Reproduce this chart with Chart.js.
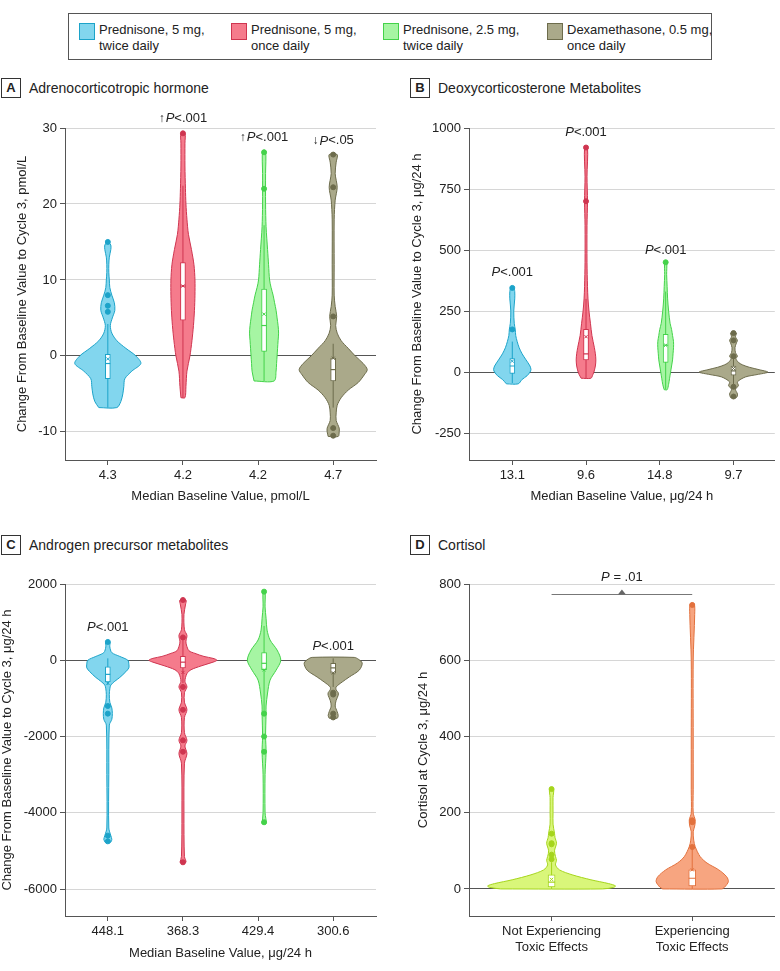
<!DOCTYPE html>
<html>
<head>
<meta charset="utf-8">
<script src="https://cdn.jsdelivr.net/npm/chart.js@4.4.1/dist/chart.umd.min.js"></script>
<style>
  body { margin: 0; background: #fff; font-family: 'Liberation Sans', Arial, sans-serif; color: #222; }
  #page { position: relative; width: 780px; height: 971px; overflow: hidden; }
  .legend { position: absolute; left: 68px; top: 13px; width: 642px; height: 45px; border: 1px solid #555; }
  .item { position: absolute; top: 8px; font-size: 13px; line-height: 16px; }
  .sw { position: absolute; left: 0; top: 1px; width: 14px; height: 15px; border: 1px solid; }
  .item .t { position: absolute; left: 20px; top: 0; white-space: nowrap; }
  .ptitle { position: absolute; font-size: 14px; height: 20px; line-height: 20px; white-space: nowrap; }
  .ptitle b { display: inline-block; width: 18px; height: 18px; border: 1px solid #333; text-align: center;
              line-height: 18px; font-size: 13px; margin-right: 8px; vertical-align: top; }
  canvas { position: absolute; }
</style>
</head>
<body>
<div id="page">
  <div class="legend">
    <div class="item" style="left:10px"><div class="sw" style="background:#82d6ee;border-color:#1ca3c9"></div><span class="t">Prednisone, 5 mg,<br>twice daily</span></div>
    <div class="item" style="left:162px"><div class="sw" style="background:#f57b8c;border-color:#cf3550"></div><span class="t">Prednisone, 5 mg,<br>once daily</span></div>
    <div class="item" style="left:314px"><div class="sw" style="background:#a6f5a3;border-color:#44d24a"></div><span class="t">Prednisone, 2.5 mg,<br>twice daily</span></div>
    <div class="item" style="left:478px"><div class="sw" style="background:#aaa98a;border-color:#6d6c4c"></div><span class="t">Dexamethasone, 0.5 mg,<br>once daily</span></div>
  </div>
  <div class="ptitle" style="left:1px;top:78px"><b>A</b>Adrenocorticotropic hormone</div>
  <div class="ptitle" style="left:410px;top:78px"><b>B</b>Deoxycorticosterone Metabolites</div>
  <div class="ptitle" style="left:1px;top:535px"><b>C</b>Androgen precursor metabolites</div>
  <div class="ptitle" style="left:410px;top:535px"><b>D</b>Cortisol</div>
  <canvas id="cA" width="390" height="400" style="left:0;top:110px"></canvas>
  <canvas id="cB" width="390" height="400" style="left:390px;top:110px"></canvas>
  <canvas id="cC" width="390" height="411" style="left:0;top:560px"></canvas>
  <canvas id="cD" width="390" height="411" style="left:390px;top:560px"></canvas>
</div>
<script>
// ---- colours of the four treatment groups ----
var groupFill   = ['#82d6ee', '#f57b8c', '#a6f5a3', '#aaa98a'];
var groupStroke = ['#1ca3c9', '#cf3550', '#44d24a', '#6d6c4c'];
var toxFill   = ['#d9f67a', '#f7a580'];
var toxStroke = ['#a5d51c', '#e2713d'];

// ---- A: Adrenocorticotropic hormone ----
var aLabels = ['4.3', '4.2', '4.2', '4.7'];
var aTicks = [-10, 0, 10, 20, 30];
var aViolinY = [
  [-6.8, -6.0, -5, -4, -3, -2, -1, 0, 1, 2, 3, 4, 5, 6, 7, 8, 9, 10, 11, 12, 13, 14, 14.6, 15],
  [-5.5, -4, -2, 0, 2, 4, 6, 8, 10, 12, 14, 16, 18, 20, 22, 25, 28, 29.3],
  [-3.3, -2, -1, 0, 1, 2, 3, 4, 5, 6, 7, 8, 9, 10, 12, 14, 17, 20, 24, 27],
  [-10.6, -10, -9.5, -8.5, -7.5, -6.5, -5.5, -4.5, -3.5, -2.5, -1.8, -1, 0, 1, 2, 3, 4, 5.2, 6.5, 8, 12, 18, 20.5, 22.2, 24, 25.5, 26.5]
];
var aViolinW = [
  [9, 13, 15, 16, 17, 24, 33, 28, 18, 9, 4, 2.5, 4.5, 7, 6.5, 4, 2, 1.5, 1, 1, 1.5, 3, 3, 0.5],
  [2, 3, 4, 7, 9, 10.5, 11.5, 12, 12, 11, 8.5, 5.5, 4, 3, 2.5, 2, 2, 2],
  [10, 12, 12.5, 13, 13.5, 14, 14.5, 14, 13, 12, 10.5, 9, 7, 5.5, 4.5, 3.5, 2, 1.5, 1.5, 1.5],
  [5, 6, 6, 3, 3, 4, 8, 15, 25, 31, 34, 30, 22, 15, 8, 4, 2.5, 3.5, 2, 1, 1, 1, 2, 4, 2, 3, 4]
];
var aQ1 = [-3.0, 4.7, 0.6, -3.3];
var aQ3 = [0.2, 12.3, 8.8, -0.3];
var aMedian = [-1.0, 9.2, 4.0, -1.8];
var aMean = [-0.4, 9.2, 5.5, -0.3];
var aWhiskLo = [-6.8, -5.5, -3.3, -6.8];
var aWhiskHi = [4.2, 22.4, 17.2, 1.6];
var aOutliers = [[15.0, 8.0, 6.6, 5.8], [29.3], [22.0, 26.8], [26.5, 22.2, 5.2, -9.5, -10.5]];
var aNoteY = [null, 31.2, 28.7, 28.3];
var aNoteArrow = ['', '↑', '↑', '↓'];
var aNoteText = ['', '<.001', '<.001', '<.05'];

// ---- B: Deoxycorticosterone metabolites ----
var bLabels = ['13.1', '9.6', '14.8', '9.7'];
var bTicks = [-250, 0, 250, 500, 750, 1000];
var bViolinY = [
  [-48, -30, -15, 0, 10, 25, 50, 75, 100, 125, 150, 175, 200, 250, 300, 330, 345],
  [-25, -10, 0, 25, 50, 75, 100, 150, 200, 250, 300, 350, 450, 600, 700, 800, 920],
  [-72, -50, -25, 0, 25, 50, 75, 100, 125, 150, 175, 200, 250, 300, 350, 400, 450],
  [-104, -90, -70, -56, -40, -20, -10, 0, 10, 20, 30, 40, 55, 65, 80, 100, 120, 130, 145, 160]
];
var bViolinW = [
  [6, 10, 15, 18, 19, 18, 14, 10, 7, 5, 3.5, 3, 2, 1.5, 2.5, 2.5, 1.5],
  [5, 7, 8, 9.5, 10, 9.5, 8.5, 6, 4.5, 3, 2, 1.5, 1, 1, 1.5, 1, 1.5],
  [1.5, 3, 4, 5, 6, 7, 7.5, 8, 8, 7, 6, 4.5, 3, 2, 1.5, 1, 1],
  [3, 4, 2, 5, 4, 12, 24, 35, 26, 16, 9, 5, 2.5, 4, 2, 1.5, 3, 4, 2, 3]
];
var bQ1 = [-5, 50, 40, -12];
var bQ3 = [55, 175, 155, 25];
var bMedian = [25, 75, 110, 5];
var bMean = [45, 145, 110, 15];
var bWhiskLo = [-45, -25, -70, -50];
var bWhiskHi = [125, 300, 330, 60];
var bOutliers = [[175, 345], [700, 920], [450], [160, 130, 65, -60, -100]];
var bNoteY = [407, 982, 497, null];
var bNoteText = ['<.001', '<.001', '<.001', ''];

// ---- C: Androgen precursor metabolites ----
var cLabels = ['448.1', '368.3', '429.4', '300.6'];
var cTicks = [-6000, -4000, -2000, 0, 2000];
var cViolinY = [
  [-4780, -4700, -4600, -4400, -3000, -1700, -1550, -1400, -1250, -1100, -900, -750, -650, -550, -450, -300, -200, -100, 0, 100, 200, 350, 480],
  [-5300, -5150, -4000, -2700, -2450, -2250, -2100, -1900, -1500, -1300, -1100, -850, -700, -550, -350, -250, -150, -50, 0, 50, 100, 180, 250, 400, 500, 650, 800, 1200, 1450, 1580],
  [-4280, -4000, -3000, -2400, -2000, -1400, -1200, -860, -520, -260, 0, 268, 530, 790, 1100, 1400, 1800],
  [-1520, -1450, -1350, -1200, -1050, -920, -850, -780, -700, -570, -440, -260, -75, 30, 75]
];
var cViolinW = [
  [2.5, 4, 3, 1, 1, 1.5, 4, 4.5, 4, 2, 1.5, 2, 3, 7, 12, 18, 21, 21, 20, 12, 4, 2, 2],
  [3, 1.5, 1, 1.5, 4, 2, 4, 1.5, 1.5, 4, 1.5, 1.5, 4, 2, 4, 8, 18, 30, 34, 30, 21, 12, 6, 3.5, 3, 4, 1.5, 1, 2.5, 3],
  [2, 1, 1, 2, 1.5, 2, 2, 3.5, 6, 12, 16.7, 13, 6, 3, 2, 1, 1],
  [4, 5, 4, 2, 3, 5, 5, 3, 3, 9, 16, 26, 29, 25, 21]
];
var cQ1 = [-570, -200, -250, -340];
var cQ3 = [-175, 100, 200, -80];
var cMedian = [-370, -50, -80, -200];
var cMean = [-600, -320, -250, -330];
var cWhiskLo = [-650, -600, -1400, -700];
var cWhiskHi = [50, 550, 900, 50];
var cOutliers = [[480, -1200, -1400, -4600, -4750], [1580, 600, -700, -1300, -2100, -2400, -5300], [1800, -1400, -2000, -2400, -4250], [-850, -900, -1400, -1500]];
var cNoteY = [863, null, null, 354];
var cNoteText = ['<.001', '', '', '<.001'];

// ---- D: Cortisol ----
var dLabels = [['Not Experiencing', 'Toxic Effects'], ['Experiencing', 'Toxic Effects']];
var dTicks = [0, 200, 400, 600, 800];
var dViolinY = [
  [0, 4, 8, 14, 24, 37, 50, 63, 75, 85, 100, 120, 135, 146, 170, 200, 240, 262],
  [0, 5, 19, 32, 50, 68, 85, 111, 128, 150, 165, 181, 199, 260, 400, 600, 720, 748]
];
var dViolinW = [
  [52, 63, 65, 58, 40, 21, 8, 4, 5, 4, 3, 5, 3.5, 3, 1.5, 1.5, 1.5, 2],
  [30, 33, 36.7, 35, 27, 15, 8, 3, 1.5, 1, 2.5, 3, 1, 1, 1, 1, 2.5, 2]
];
var dQ1 = [5, 8];
var dQ3 = [37, 50];
var dMedian = [18, 28];
var dMean = [25, 50];
var dWhiskLo = [0, 0];
var dWhiskHi = [70, 110];
var dOutliers = [[262, 145, 120, 117, 90, 78], [110, 175, 180, 745]];
var dPValueY = 817;
var dBracketY = 775;

var FONT = "'Liberation Sans', Arial, sans-serif";
Chart.defaults.font.family = FONT;
Chart.defaults.color = '#222';

function drawP(ctx, cx, cy, arrow, rest) {
  var fArrow = 'bold 12px ' + FONT, fP = 'italic 13px ' + FONT, fR = '13px ' + FONT;
  ctx.font = fArrow; var wa = arrow ? ctx.measureText(arrow).width + 1 : 0;
  ctx.font = fP; var wp = ctx.measureText('P').width;
  ctx.font = fR; var wr = ctx.measureText(rest).width;
  var x = cx - (wa + wp + wr) / 2;
  ctx.textAlign = 'left';
  if (arrow) { ctx.font = fArrow; ctx.fillText(arrow, x, cy); }
  ctx.font = fP; ctx.fillText('P', x + wa, cy);
  ctx.font = fR; ctx.fillText(rest, x + wa + wp, cy);
}

var notesPlugin = {
  id: 'pNotes',
  afterDatasetsDraw: function (chart, args, opts) {
    var ctx = chart.ctx, xs = chart.scales.x, ys = chart.scales.y;
    ctx.save();
    ctx.fillStyle = '#222';
    ctx.textBaseline = 'middle';
    (opts.items || []).forEach(function (n) {
      drawP(ctx, xs.getPixelForValue(n.x), ys.getPixelForValue(n.y), n.arrow, n.text);
    });
    if (opts.bracket) {
      var b = opts.bracket;
      var x0 = xs.getPixelForValue(b.from), x1 = xs.getPixelForValue(b.to);
      var yb = Math.round(ys.getPixelForValue(b.y)) + 0.5, xm = (x0 + x1) / 2;
      ctx.strokeStyle = '#777';
      ctx.lineWidth = 1;
      ctx.beginPath(); ctx.moveTo(x0, yb); ctx.lineTo(x1, yb); ctx.stroke();
      ctx.fillStyle = '#666';
      ctx.beginPath(); ctx.moveTo(xm - 4, yb); ctx.lineTo(xm + 4, yb); ctx.lineTo(xm, yb - 5); ctx.closePath(); ctx.fill();
      ctx.fillStyle = '#222';
      drawP(ctx, xm, ys.getPixelForValue(b.pY), '', ' = .01');
    }
    ctx.restore();
  }
};

function buildChart(p) {
  var datasets = [];
  p.violinY.forEach(function (ys, i) {
    var c = i + p.nudge[i];
    var ws = p.violinW[i].map(function (w) { return w * p.wScale; });
    var left = ys.map(function (y, k) { return { x: c - ws[k], y: y }; });
    var right = ys.map(function (y, k) { return { x: c + ws[k], y: y }; }).reverse();
    datasets.push({
      type: 'line', data: left.concat(right, [left[0]]),
      borderColor: p.stroke[i], backgroundColor: p.fill[i], borderWidth: 1,
      fill: 'shape', tension: 0.3, pointRadius: 0, order: 5
    });
    datasets.push({
      type: 'line', data: [{ x: c, y: p.whiskLo[i] }, { x: c, y: p.whiskHi[i] }],
      borderColor: p.stroke[i], borderWidth: 1, pointRadius: 0, fill: false, order: 4
    });
    datasets.push({
      type: 'scatter', data: p.outliers[i].map(function (y) { return { x: c, y: y }; }),
      backgroundColor: p.stroke[i], borderColor: p.stroke[i], pointRadius: 2.5, order: 1
    });
    datasets.push({
      type: 'scatter', data: [{ x: c, y: p.median[i] }], pointStyle: 'line',
      borderColor: p.stroke[i], borderWidth: 1.2, pointRadius: p.boxW / 2, order: 2
    });
    datasets.push({
      type: 'scatter', data: [{ x: c, y: p.mean[i] }], pointStyle: 'crossRot',
      borderColor: p.stroke[i], borderWidth: 1, pointRadius: 2.2, order: 2
    });
  });
  datasets.push({
    type: 'bar',
    data: p.q1.map(function (q, i) { return { x: i + p.nudge[i], y: [q, p.q3[i]] }; }),
    backgroundColor: '#ffffff', borderColor: p.stroke, borderWidth: 1, borderSkipped: false,
    barThickness: p.boxW, grouped: false, order: 3
  });

  var items = [];
  (p.noteY || []).forEach(function (y, i) {
    if (y !== null) items.push({ x: i + p.nudge[i], y: y, arrow: p.noteArrow ? p.noteArrow[i] : '', text: p.noteText[i] });
  });

  new Chart(document.getElementById(p.id).getContext('2d'), {
    type: 'scatter',
    data: { datasets: datasets },
    plugins: [notesPlugin],
    options: {
      responsive: false,
      animation: false,
      devicePixelRatio: 1,
      layout: { padding: p.padding },
      plugins: {
        legend: { display: false },
        tooltip: { enabled: false },
        pNotes: { items: items, bracket: p.bracket || null }
      },
      scales: {
        x: {
          type: 'linear', min: p.xMin, max: p.xMax, offset: false,
          afterBuildTicks: function (s) { s.ticks = p.labels.map(function (_, i) { return { value: i }; }); },
          afterFit: function (s) { s.height = p.xHeight; },
          ticks: { autoSkip: false, maxRotation: 0, padding: 3, color: '#222',
                   font: { size: 13, lineHeight: 1.18 },
                   callback: function (v) { return p.labels[v]; } },
          grid: { drawOnChartArea: false, offset: false, tickLength: 5, color: '#555' },
          border: { color: '#555' },
          title: { display: !!p.xTitle, text: p.xTitle, color: '#222', font: { size: 13 },
                   padding: { top: 4, bottom: p.xTitlePad } }
        },
        y: {
          type: 'linear', min: p.yMin, max: p.yMax,
          afterBuildTicks: function (s) { s.ticks = p.ticks.map(function (v) { return { value: v }; }); },
          afterFit: function (s) { s.width = p.yWidth; },
          ticks: { padding: 3, color: '#222', font: { size: 13 },
                   callback: function (v) { return String(v); } },
          grid: { color: function (c) { return c.tick && c.tick.value === 0 ? '#555' : '#d6d6d6'; },
                  tickColor: '#555', tickLength: 5 },
          border: { color: '#555' },
          title: { display: true, text: p.yTitle, color: '#222', font: { size: 13 },
                   padding: { top: p.yTitlePad, bottom: 0 } }
        }
      }
    }
  });
}

var nudge4 = [0, 0, 0.08, 0];

buildChart({
  id: 'cA', labels: aLabels, ticks: aTicks, yMin: -13.7, yMax: 30, xMin: -0.57, xMax: 3.57,
  violinY: aViolinY, violinW: aViolinW, wScale: 1 / 75, nudge: nudge4,
  q1: aQ1, q3: aQ3, median: aMedian, mean: aMean, whiskLo: aWhiskLo, whiskHi: aWhiskHi, outliers: aOutliers,
  fill: groupFill, stroke: groupStroke, boxW: 5,
  noteY: aNoteY, noteArrow: aNoteArrow, noteText: aNoteText,
  padding: { top: 18, right: 14, left: 0, bottom: 0 }, yWidth: 65, xHeight: 50,
  xTitle: 'Median Baseline Value, pmol/L', xTitlePad: 6,
  yTitle: 'Change From Baseline Value to Cycle 3, pmol/L', yTitlePad: 15
});

buildChart({
  id: 'cB', labels: bLabels, ticks: bTicks, yMin: -360, yMax: 1000, xMin: -0.587, xMax: 3.56,
  violinY: bViolinY, violinW: bViolinW, wScale: 1 / 75, nudge: nudge4,
  q1: bQ1, q3: bQ3, median: bMedian, mean: bMean, whiskLo: bWhiskLo, whiskHi: bWhiskHi, outliers: bOutliers,
  fill: groupFill, stroke: groupStroke, boxW: 5,
  noteY: bNoteY, noteText: bNoteText,
  padding: { top: 18, right: 0, left: 0, bottom: 0 }, yWidth: 79, xHeight: 50,
  xTitle: 'Median Baseline Value, μg/24 h', xTitlePad: 6,
  yTitle: 'Change From Baseline Value to Cycle 3, μg/24 h', yTitlePad: 20
});

buildChart({
  id: 'cC', labels: cLabels, ticks: cTicks, yMin: -6708, yMax: 2000, xMin: -0.57, xMax: 3.57,
  violinY: cViolinY, violinW: cViolinW, wScale: 1 / 75, nudge: nudge4,
  q1: cQ1, q3: cQ3, median: cMedian, mean: cMean, whiskLo: cWhiskLo, whiskHi: cWhiskHi, outliers: cOutliers,
  fill: groupFill, stroke: groupStroke, boxW: 5,
  noteY: cNoteY, noteText: cNoteText,
  padding: { top: 24, right: 14, left: 0, bottom: 0 }, yWidth: 65, xHeight: 55,
  xTitle: 'Median Baseline Value, μg/24 h', xTitlePad: 10,
  yTitle: 'Change From Baseline Value to Cycle 3, μg/24 h', yTitlePad: 0
});

buildChart({
  id: 'cD', labels: dLabels, ticks: dTicks, yMin: -71, yMax: 800, xMin: -0.587, xMax: 1.587,
  violinY: dViolinY, violinW: dViolinW, wScale: 1 / 143, nudge: [0, 0],
  q1: dQ1, q3: dQ3, median: dMedian, mean: dMean, whiskLo: dWhiskLo, whiskHi: dWhiskHi, outliers: dOutliers,
  fill: toxFill, stroke: toxStroke, boxW: 7,
  bracket: { from: 0, to: 1, y: dBracketY, pY: dPValueY },
  padding: { top: 24, right: 0, left: 0, bottom: 0 }, yWidth: 79, xHeight: 55,
  xTitle: '', xTitlePad: 0,
  yTitle: 'Cortisol at Cycle 3, μg/24 h', yTitlePad: 26
});
</script>
</body>
</html>
